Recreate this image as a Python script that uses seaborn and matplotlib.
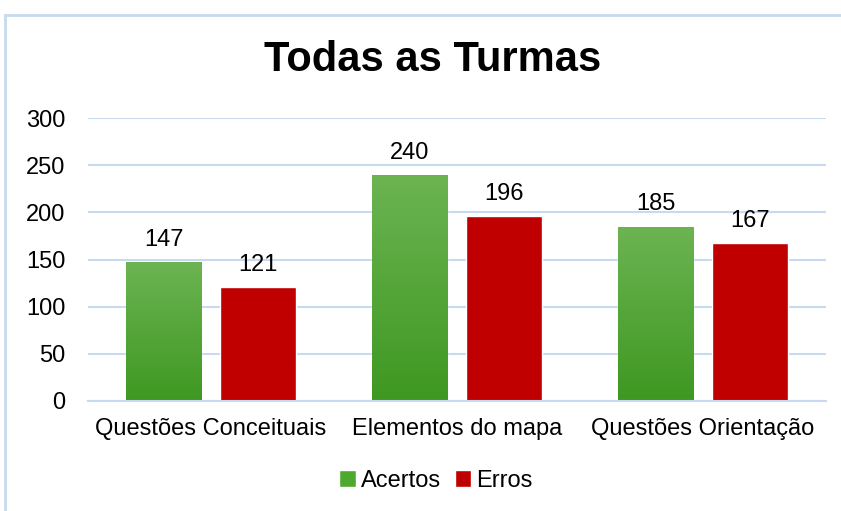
import numpy as np
import pandas as pd
import seaborn as sns
import matplotlib.pyplot as plt
from matplotlib.patches import Rectangle

categories = ["Questões Conceituais", "Elementos do mapa", "Questões Orientação"]
acertos = [147, 240, 185]
erros = [121, 196, 167]
series_names = ["Acertos", "Erros"]
yticks = [0, 50, 100, 150, 200, 250, 300]

df = pd.DataFrame({
    "categoria": categories * 2,
    "valor": acertos + erros,
    "serie": [series_names[0]] * 3 + [series_names[1]] * 3,
})

sns.set_style("white")
plt.rcParams["font.family"] = ["Liberation Sans", "DejaVu Sans"]
plt.rcParams["text.color"] = "black"
plt.rcParams["xtick.color"] = "black"
plt.rcParams["ytick.color"] = "black"

fig = plt.figure(figsize=(8.41, 5.11), dpi=100)
ax = fig.add_axes([0.1046, 0.2153, 0.8774, 0.5537])

green_mid = "#4ea82e"
red = "#c00000"
sns.barplot(data=df, x="categoria", y="valor", hue="serie", order=categories,
            hue_order=series_names, palette=[green_mid, red], width=0.77, gap=0.2,
            ax=ax, legend=True, saturation=1)

# gradient for green bars
top_c = np.array([108, 180, 82]) / 255
bot_c = np.array([62, 152, 33]) / 255
grad = np.linspace(0, 1, 256)[:, None]
img = top_c[None, None, :] * (1 - grad[:, :, None]) + bot_c[None, None, :] * grad[:, :, None]
for patch in ax.containers[0]:
    x0, y0 = patch.get_x(), patch.get_y()
    w, h = patch.get_width(), patch.get_height()
    im = ax.imshow(img, extent=[x0, x0 + w, y0, y0 + h], aspect="auto", zorder=patch.get_zorder() + 0.1)
    im.set_clip_path(patch)

for cont in ax.containers:
    ax.bar_label(cont, fmt="%d", padding=8, fontsize=17, color="black")

ax.set_xlim(-0.5, 2.5)
ax.set_ylim(0, 300)
ax.set_yticks(yticks)
ax.set_yticklabels([str(t) for t in yticks], fontsize=17)
ax.tick_params(axis="x", labelsize=17, length=0, pad=12)
ax.tick_params(axis="y", length=0, pad=16)
ax.set_xlabel("")
ax.set_ylabel("")
ax.yaxis.grid(True, color="#c9daf0", linewidth=1.5)
ax.set_axisbelow(True)
for s in ["top", "right", "left"]:
    ax.spines[s].set_visible(False)
ax.spines["bottom"].set_color("#c9daf0")
ax.spines["bottom"].set_linewidth(1.5)

fig.text(0.514, 1 - 60 / 511, "Todas as Turmas", fontsize=30, fontweight="bold",
         ha="center", va="center", color="black")

leg = ax.legend(loc="center", bbox_to_anchor=(436 / 841, 1 - 481 / 511), bbox_transform=fig.transFigure,
                ncol=2, frameon=False, fontsize=17, handlelength=0.7, handleheight=0.7,
                handletextpad=0.2, columnspacing=0.6)
leg.legend_handles[0].set_facecolor(green_mid)

top = 1 - 15 / 511
fig.patches.append(Rectangle((5 / 841, -0.2), 1.2, top + 0.2, transform=fig.transFigure,
                             fill=False, edgecolor="#c9daf0", linewidth=2, clip_on=False))

fig.savefig("out.png", dpi=100)
